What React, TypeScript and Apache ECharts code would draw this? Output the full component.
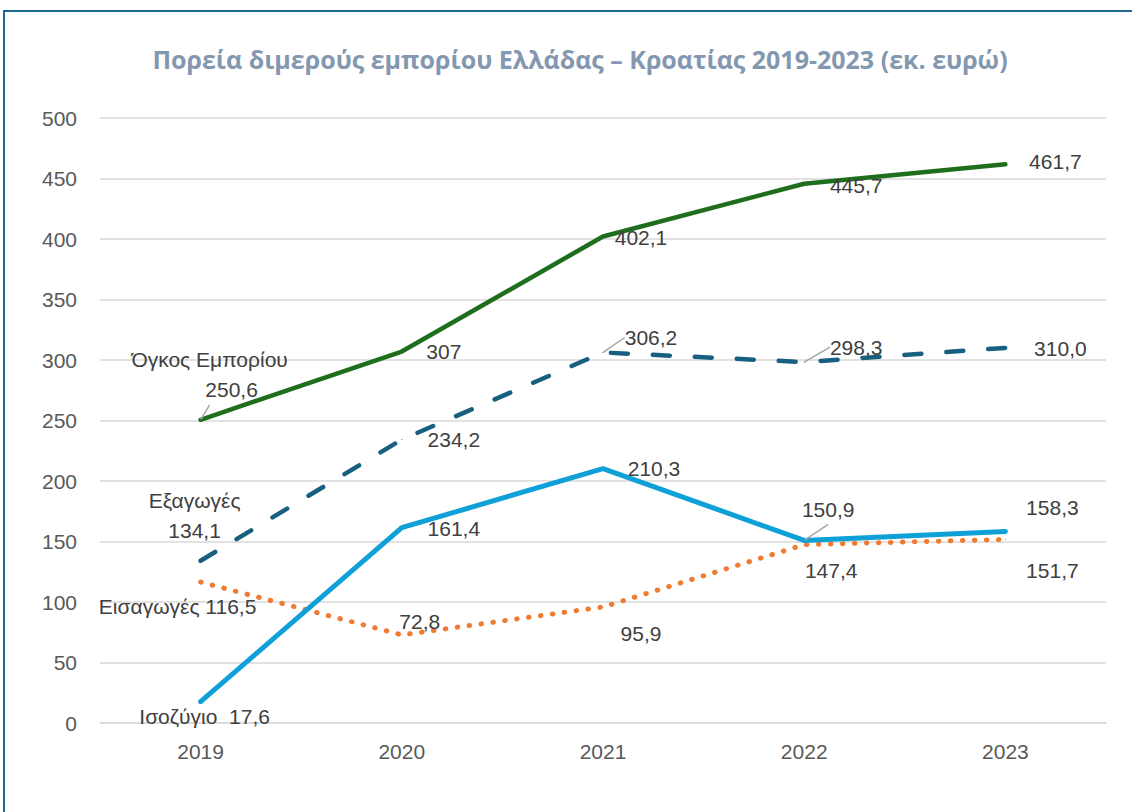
import React, { useEffect, useRef } from "react";
import * as echarts from "echarts";

const years = ["2019", "2020", "2021", "2022", "2023"];
const volume = [250.6, 307, 402.1, 445.7, 461.7];
const exportsData = [134.1, 234.2, 306.2, 298.3, 310.0];
const importsData = [116.5, 72.8, 95.9, 147.4, 151.7];
const balance = [17.6, 161.4, 210.3, 150.9, 158.3];
const seriesNames = ["Όγκος Εμπορίου", "Εξαγωγές", "Εισαγωγές", "Ισοζύγιο"];
const yTicks = { min: 0, max: 500, interval: 50 };

// label offsets (dx, dy) from each point, per series
const labelOffsets: number[][][] = [
  [[9, -45], [42, 0], [38, 1], [52, 2], [50, -3]],
  [[-6, -45], [52, 0], [48, -15], [52, -15], [55, 1]],
  [[-23, 24], [18, -13], [38, 27], [27, 26], [47, 31]],
  [[4, 15], [52, 1], [51, 0], [24, -31], [47, -24]],
];
const leaderLines: boolean[][] = [
  [true, false, false, false, false],
  [false, false, true, true, false],
  [false, false, false, false, false],
  [false, false, false, true, false],
];

const fmt = (si: number, v: number) =>
  si === 0 ? String(v).replace(".", ",") : v.toFixed(1).replace(".", ",");

export default function App() {
  const ref = useRef<HTMLDivElement>(null);
  useEffect(() => {
    if (!ref.current) return;
    const chart = echarts.init(ref.current, null, { renderer: "svg" });
    const font = "'Liberation Sans', Arial, sans-serif";
    const labelColor = "#404040";
    const datasets = [volume, exportsData, importsData, balance];
    const styles = [
      { color: "#1E6E1E", width: 4.5, type: "solid" as any, cap: "round" },
      { color: "#17607F", width: 4.5, type: [17, 25] as any, cap: "round" },
      { color: "#EE7B30", width: 5, type: [0.5, 11.5] as any, cap: "round" },
      { color: "#0FA0D8", width: 5, type: "solid" as any, cap: "round" },
    ];
    const drawOrder = [2, 3, 1, 0];
    const series = drawOrder.map((si) => ({
      name: seriesNames[si],
      type: "line",
      z: 2 + drawOrder.indexOf(si),
      symbol: "circle",
      symbolSize: 1,
      itemStyle: { color: styles[si].color },
      lineStyle: {
        color: styles[si].color,
        width: styles[si].width,
        type: styles[si].type,
        cap: styles[si].cap,
      },
      label: {
        show: true,
        position: "inside",
        fontFamily: font,
        fontSize: 21,
        color: labelColor,
        lineHeight: 30,
        formatter: (p: any) => {
          const val = fmt(si, p.value);
          if (p.dataIndex !== 0) return val;
          if (si === 0) return `${seriesNames[si]}\n{v|${val}}`;
          if (si === 1) return `${seriesNames[si]}\n${val}`;
          if (si === 2) return `${seriesNames[si]} ${val}`;
          return `${seriesNames[si]}  ${val}`;
        },
        rich: {
          v: { fontFamily: font, fontSize: 21, color: labelColor, padding: [0, 0, 0, 44], lineHeight: 30 },
        },
      },
      labelLine: { show: false, lineStyle: { color: "#A6A6A6", width: 1.5 }, smooth: false },
      labelLayout: (params: any) => {
        const o = labelOffsets[si][params.dataIndex];
        return { dx: o[0], dy: o[1] };
      },
      data: datasets[si].map((v, i) => ({
        value: v,
        labelLine: { show: leaderLines[si][i], lineStyle: { color: "#A6A6A6", width: 1.5 } },
      })),
      silent: true,
    }));

    chart.setOption({
      animation: false,
      backgroundColor: "#ffffff",
      title: {
        text: "Πορεία διμερούς εμπορίου Ελλάδας – Κροατίας 2019-2023 (εκ. ευρώ)",
        left: 575,
        top: 41,
        textAlign: "center",
        textStyle: { fontFamily: "'Open Sans', 'Noto Sans', sans-serif", fontSize: 25, fontWeight: "bold", color: "#8497B0" },
      },
      graphic: [
        {
          type: "rect",
          shape: { x: 4, y: 11, width: 1140, height: 830 },
          style: { fill: "none", stroke: "#1D6990", lineWidth: 2 },
          silent: true,
          z: 100,
        },
      ],
      grid: { left: 100, right: 26, top: 118, bottom: 89, containLabel: false },
      xAxis: {
        type: "category",
        data: years,
        boundaryGap: true,
        axisLine: { show: true, lineStyle: { color: "#D9D9D9", width: 1.5 } },
        axisTick: { show: false },
        axisLabel: { fontFamily: font, fontSize: 21, color: "#595959", margin: 18 },
      },
      yAxis: {
        type: "value",
        min: yTicks.min,
        max: yTicks.max,
        interval: yTicks.interval,
        axisLine: { show: false },
        axisTick: { show: false },
        splitLine: { lineStyle: { color: "#D9D9D9", width: 1.5 } },
        axisLabel: { fontFamily: font, fontSize: 21, color: "#595959", margin: 23 },
      },
      series,
    });
    return () => chart.dispose();
  }, []);
  return (
    <div
      ref={ref}
      style={{ position: "fixed", left: 0, top: 0, width: 1132, height: 812 }}
    />
  );
}
